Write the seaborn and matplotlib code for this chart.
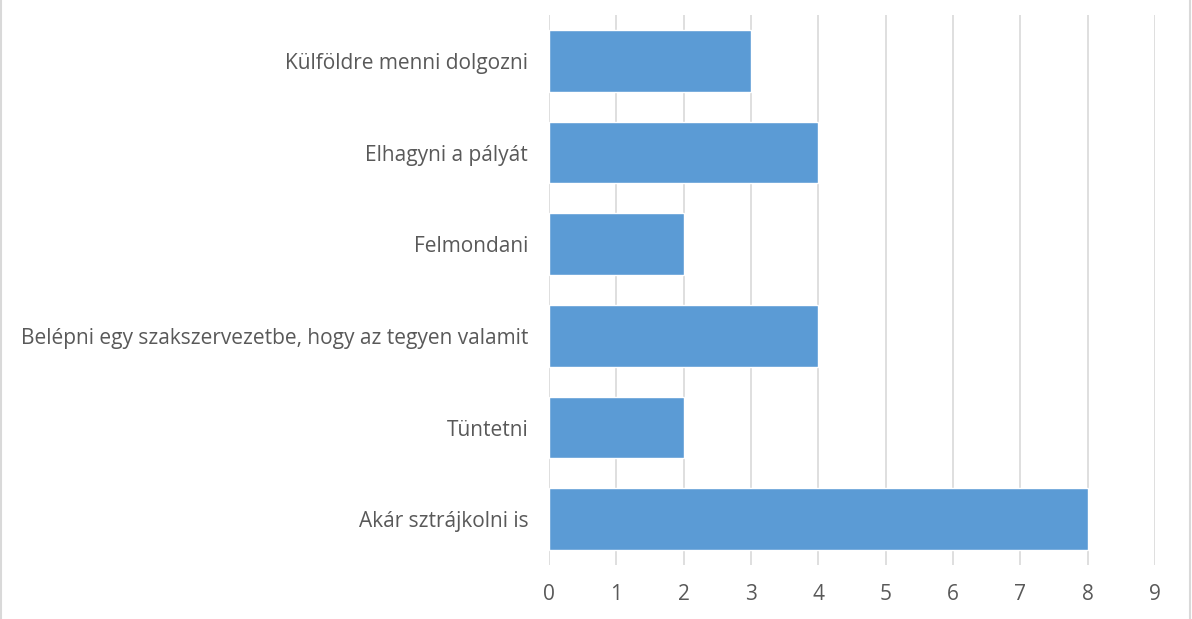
import matplotlib.pyplot as plt
from matplotlib.lines import Line2D
import seaborn as sns
import pandas as pd

categories = [
    "Külföldre menni dolgozni",
    "Elhagyni a pályát",
    "Felmondani",
    "Belépni egy szakszervezetbe, hogy az tegyen valamit",
    "Tüntetni",
    "Akár sztrájkolni is",
]
counts = [3, 4, 2, 4, 2, 8]
x_ticks = list(range(0, 10))

sns.set_theme(style="white")
plt.rcParams["font.family"] = ["Open Sans", "DejaVu Sans"]

df = pd.DataFrame({"option": categories, "count": counts})

fig = plt.figure(figsize=(11.92, 6.19), dpi=100)
# thin light frame only on the left and right edges
for xf in (0.5 / 1192, 1189.5 / 1192):
    fig.add_artist(Line2D([xf, xf], [0, 1], color="#D9D9D9", linewidth=1.5,
                          transform=fig.transFigure))
ax = fig.add_axes([549 / 1192, 1 - 565 / 619, (1155 - 549) / 1192, (565 - 15) / 619])

sns.barplot(data=df, y="option", x="count", orient="h", color="#5B9BD5",
            saturation=1, width=0.67, ax=ax, zorder=3)

ax.set_xlim(0, 9)
ax.set_xticks(x_ticks)
ax.set_xlabel("")
ax.set_ylabel("")
ax.grid(axis="x", color="#D9D9D9", linewidth=1.2, zorder=0)
ax.grid(axis="y", visible=False)
for s in ax.spines.values():
    s.set_visible(False)
ax.tick_params(axis="y", length=0, pad=15, labelsize=15, labelcolor="#595959")
ax.tick_params(axis="x", length=0, pad=14, labelsize=15, labelcolor="#595959")

fig.savefig("out.png", dpi=100)
